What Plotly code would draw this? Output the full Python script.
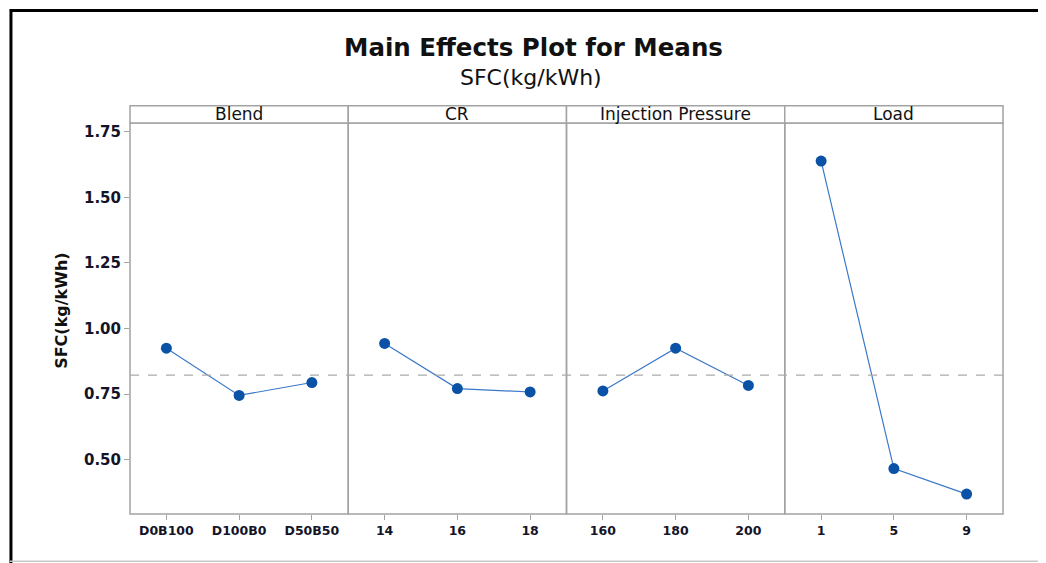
import plotly.graph_objects as go
from plotly.subplots import make_subplots

factors = ["Blend", "CR", "Injection Pressure", "Load"]
levels = [
    ["D0B100", "D100B0", "D50B50"],
    ["14", "16", "18"],
    ["160", "180", "200"],
    ["1", "5", "9"],
]
means = [
    [0.925, 0.745, 0.794],
    [0.943, 0.771, 0.758],
    [0.762, 0.925, 0.783],
    [1.638, 0.466, 0.369],
]
grand_mean = 0.822
y_ticks = [0.50, 0.75, 1.00, 1.25, 1.50, 1.75]

# page is offset by the default 8px body margin
OFF = 8
W, H = 1046 - OFF, 563 - OFF
L, R, T, B = 130 - OFF, 43.3, 123 - OFF, 48.7
pw = W - L - R
ph = H - T - B


def px(x):  # page x -> paper
    return (x - OFF - L) / pw


def py(y):  # page y -> paper
    return (H - B - (y - OFF)) / ph


fig = make_subplots(rows=1, cols=4, shared_yaxes=True, horizontal_spacing=0)

line_col = "#3a78c8"
mark_col = "#0a52a6"
grey = "#a3a3a3"
font = "DejaVu Sans"
txt = "#141428"

for i in range(4):
    fig.add_trace(go.Scatter(
        x=levels[i], y=means[i], mode="lines+markers",
        line=dict(color=line_col, width=1.2),
        marker=dict(color=mark_col, size=11, symbol="circle"),
        showlegend=False, hoverinfo="x+y"), row=1, col=i + 1)
    fig.update_xaxes(type="category", range=[-0.5, 2.5], showgrid=False,
                     zeroline=False, showline=False, ticks="outside",
                     ticklen=5, tickcolor=grey,
                     tickfont=dict(family=font, size=12.5, color=txt,
                                   weight="bold"),
                     row=1, col=i + 1)

fig.update_yaxes(range=[0.293, 1.783], tickvals=y_ticks,
                 ticktext=[f"{v:.2f}" for v in y_ticks], showgrid=False,
                 zeroline=False, showline=False, ticks="", showticklabels=False)
fig.update_yaxes(ticks="outside", ticklen=5, tickcolor=grey,
                 showticklabels=True,
                 tickfont=dict(family=font, size=15, color=txt, weight="bold"),
                 row=1, col=1)

shapes = []
strip_h = 17.3 / ph
for i in range(4):
    x0, x1 = i * 0.25, (i + 1) * 0.25
    shapes.append(dict(type="rect", xref="paper", yref="paper", x0=x0, x1=x1,
                       y0=0, y1=1, line=dict(color=grey, width=1.5)))
    shapes.append(dict(type="rect", xref="paper", yref="paper", x0=x0, x1=x1,
                       y0=1, y1=1 + strip_h, line=dict(color=grey, width=1.5),
                       fillcolor="white"))
shapes.append(dict(type="line", xref="paper", yref="y", x0=0, x1=1,
                   y0=grand_mean, y1=grand_mean,
                   line=dict(color="#ababab", width=1.3, dash="dash")))
# outer frame
shapes.append(dict(type="line", xref="paper", yref="paper", x0=px(10),
                   x1=px(1050), y0=py(10.5), y1=py(10.5),
                   line=dict(color="black", width=3)))
shapes.append(dict(type="line", xref="paper", yref="paper", x0=px(11),
                   x1=px(11), y0=py(9), y1=py(570),
                   line=dict(color="black", width=3)))
shapes.append(dict(type="line", xref="paper", yref="paper", x0=px(10),
                   x1=px(1050), y0=py(561.5), y1=py(561.5),
                   line=dict(color="#c8c8c8", width=1.5)))

annotations = []
for i, f in enumerate(factors):
    annotations.append(dict(text=f, xref="paper", yref="paper",
                            x=i * 0.25 + 0.125, y=1 + strip_h / 2,
                            showarrow=False, xanchor="center", yanchor="middle",
                            font=dict(family=font, size=17, color="#111111")))
annotations.append(dict(text="<b>Main Effects Plot for Means</b>", xref="paper",
                        yref="paper", x=px(533), y=py(47), showarrow=False,
                        xanchor="center", yanchor="middle",
                        font=dict(family=font, size=24.5, color="#111111")))
annotations.append(dict(text="SFC(kg/kWh)", xref="paper", yref="paper",
                        x=px(531), y=py(77), showarrow=False,
                        xanchor="center", yanchor="middle",
                        font=dict(family=font, size=22, color="#111111")))
annotations.append(dict(text="<b>SFC(kg/kWh)</b>", xref="paper", yref="paper",
                        x=px(62), y=py(311), showarrow=False, textangle=-90,
                        xanchor="center", yanchor="middle",
                        font=dict(family=font, size=16, color="#111111")))

fig.update_layout(width=W, height=H, margin=dict(l=L, r=R, t=T, b=B),
                  plot_bgcolor="white", paper_bgcolor="white",
                  shapes=shapes, annotations=annotations)

fig.write_html("out.html")
